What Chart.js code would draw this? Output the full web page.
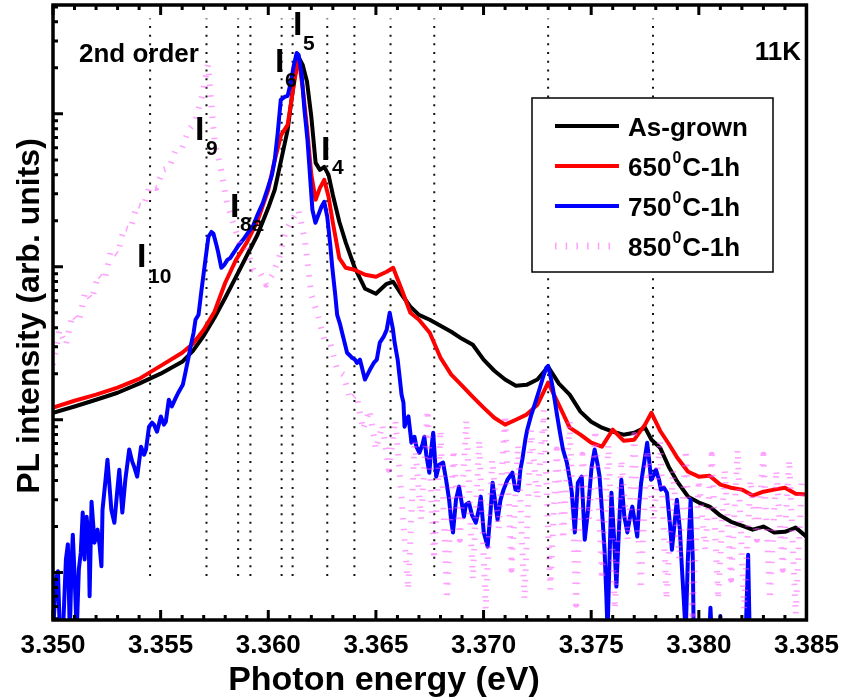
<!DOCTYPE html>
<html>
<head>
<meta charset="utf-8">
<script src="https://cdn.jsdelivr.net/npm/chart.js@4.4.1/dist/chart.umd.min.js"></script>
<style>
  html, body { margin: 0; padding: 0; background: #fff; }
  canvas { display: block; }
</style>
</head>
<body>
<canvas id="plChart" width="849" height="700"></canvas>
<script>
// PL spectra at 11K - as-grown and annealed samples
const energyTicks = [3.350, 3.355, 3.360, 3.365, 3.370, 3.375, 3.380, 3.385];

// shared energy grid for as-grown and 650C curves (eV)
const energy = [
  3.3500, 3.3510, 3.3520, 3.3530, 3.3540, 3.3550, 3.3560, 3.3565, 3.3570, 3.3575,
  3.3580, 3.3585, 3.3590, 3.3595, 3.3600, 3.3603, 3.3606, 3.3609, 3.3612, 3.3614,
  3.3616, 3.3618, 3.3620, 3.3622, 3.3624, 3.3626, 3.3628, 3.3630, 3.3633, 3.3636,
  3.3640, 3.3645, 3.3650, 3.3655, 3.3658, 3.3662, 3.3666, 3.3670, 3.3675, 3.3680,
  3.3685, 3.3690, 3.3695, 3.3700, 3.3705, 3.3710, 3.3715, 3.3720, 3.3725, 3.3730,
  3.3735, 3.3740, 3.3745, 3.3750, 3.3755, 3.3760, 3.3765, 3.3770, 3.3775, 3.3778,
  3.3782, 3.3786, 3.3790, 3.3795, 3.3800, 3.3805, 3.3810, 3.3815, 3.3820, 3.3825,
  3.3830, 3.3835, 3.3840, 3.3845, 3.3850
];
const asGrown = [
  11.1, 12.2, 13.5, 15.0, 17.2, 20.0, 23.9, 28.2, 35.4, 46.4,
  62.7, 86.0, 118, 162, 243, 319, 500, 786, 1668, 2358,
  2090, 1619, 956, 478, 430, 450, 399, 295, 197, 144,
  100, 71.8, 66.6, 77.4, 79.8, 65.6, 54.8, 48.5, 45.0, 41.1,
  37.6, 33.8, 30.9, 24.7, 20.9, 18.3, 16.7, 16.9, 18.3, 22.2,
  17.2, 14.6, 11.3, 9.70, 8.87, 8.35, 7.98, 8.22, 8.87, 7.40,
  6.56, 4.93, 3.93, 3.14, 2.87, 2.70, 2.36, 2.15, 2.03, 1.91,
  2.00, 1.83, 1.85, 1.97, 1.72
];
const anneal650 = [
  12.0, 13.3, 14.6, 16.2, 18.5, 22.5, 27.4, 31.4, 38.7, 50.8,
  78.6, 111, 144, 200, 319, 500, 729, 847, 1595, 2358,
  1479, 810, 399, 274, 328, 370, 287, 194, 114, 98.5,
  95.6, 88.7, 86.0, 92.8, 98.5, 70.7, 50.0, 45.0, 37.0, 25.4,
  19.7, 16.7, 14.1, 12.0, 10.3, 9.28, 10.0, 10.8, 12.5, 17.5,
  12.5, 8.87, 7.98, 7.07, 6.66, 8.60, 7.29, 7.40, 9.28, 11.1,
  8.47, 6.96, 5.64, 4.57, 4.24, 4.30, 3.76, 3.59, 3.49, 3.19,
  3.38, 3.49, 3.59, 3.28, 3.24
];

// 750C curve, finer sampling because of the noise
const energy750 = [
  3.35000, 3.35014, 3.35023, 3.35032, 3.35046, 3.35060, 3.35069, 3.35078, 3.35087, 3.35092,
  3.35101, 3.35110, 3.35120, 3.35129, 3.35138, 3.35147, 3.35156, 3.35166, 3.35170, 3.35179,
  3.35193, 3.35207, 3.35216, 3.35225, 3.35230, 3.35244, 3.35253, 3.35262, 3.35271, 3.35285,
  3.35299, 3.35308, 3.35322, 3.35336, 3.35354, 3.35368, 3.35377, 3.35391, 3.35409, 3.35423,
  3.35432, 3.35446, 3.35460, 3.35469, 3.35483, 3.35501, 3.35515, 3.35524, 3.35538, 3.35552,
  3.35570, 3.35584, 3.35603, 3.35616, 3.35630, 3.35639, 3.35653, 3.35662, 3.35676, 3.35690,
  3.35708, 3.35722, 3.35736, 3.35745, 3.35759, 3.35768, 3.35782, 3.35796, 3.35810, 3.35823,
  3.35842, 3.35860, 3.35883, 3.35906, 3.35929, 3.35952, 3.35975, 3.35998, 3.36017, 3.36030,
  3.36044, 3.36058, 3.36076, 3.36090, 3.36104, 3.36118, 3.36132, 3.36141, 3.36155, 3.36168,
  3.36182, 3.36191, 3.36205, 3.36219, 3.36233, 3.36247, 3.36260, 3.36274, 3.36288, 3.36297,
  3.36311, 3.36320, 3.36334, 3.36343, 3.36357, 3.36366, 3.36380, 3.36389, 3.36403, 3.36412,
  3.36426, 3.36440, 3.36449, 3.36463, 3.36472, 3.36490, 3.36504, 3.36518, 3.36536, 3.36550,
  3.36564, 3.36578, 3.36587, 3.36601, 3.36610, 3.36619, 3.36628, 3.36633, 3.36642, 3.36651,
  3.36661, 3.36665, 3.36679, 3.36688, 3.36702, 3.36716, 3.36725, 3.36734, 3.36748, 3.36757,
  3.36766, 3.36780, 3.36794, 3.36812, 3.36826, 3.36840, 3.36849, 3.36858, 3.36872, 3.36886,
  3.36900, 3.36909, 3.36918, 3.36932, 3.36946, 3.36964, 3.36978, 3.36987, 3.37001, 3.37019,
  3.37033, 3.37042, 3.37056, 3.37065, 3.37079, 3.37093, 3.37111, 3.37134, 3.37148, 3.37162,
  3.37171, 3.37180, 3.37194, 3.37203, 3.37222, 3.37240, 3.37259, 3.37277, 3.37291, 3.37300,
  3.37314, 3.37323, 3.37341, 3.37355, 3.37369, 3.37387, 3.37401, 3.37410, 3.37424, 3.37438,
  3.37456, 3.37470, 3.37484, 3.37502, 3.37516, 3.37530, 3.37539, 3.37553, 3.37562, 3.37571,
  3.37576, 3.37585, 3.37594, 3.37608, 3.37617, 3.37631, 3.37640, 3.37654, 3.37668, 3.37682,
  3.37691, 3.37705, 3.37714, 3.37723, 3.37732, 3.37746, 3.37760, 3.37769, 3.37778, 3.37792,
  3.37801, 3.37815, 3.37824, 3.37838, 3.37852, 3.37866, 3.37875, 3.37889, 3.37898, 3.37912,
  3.37921, 3.37930, 3.37939, 3.37949, 3.37962, 3.37972, 3.37976, 3.37990, 3.38045, 3.38054,
  3.38064, 3.38091, 3.38100, 3.38109, 3.38215, 3.38229, 3.38238, 3.38500
];
const anneal750 = [
  0.4, 0.90, 1.02, 0.4, 0.4, 1.22, 1.53, 0.4, 1.22, 1.77,
  0.90, 0.4, 1.05, 1.35, 2.47, 1.22, 2.32, 1.64, 0.70, 2.91,
  1.57, 1.91, 1.53, 1.10, 2.58, 4.05, 5.48, 3.76, 2.58, 2.12,
  3.49, 4.71, 2.47, 4.05, 6.38, 5.32, 4.93, 4.24, 6.66, 5.90,
  6.38, 9.00, 9.56, 9.28, 8.35, 10.5, 9.28, 9.70, 13.5, 12.2,
  13.9, 15.2, 16.9, 20.6, 25.8, 30.0, 37.0, 45.0, 48.5, 70.7,
  111, 157, 169, 165, 139, 123, 98.5, 103, 111, 114,
  125, 137, 150, 167, 185, 222, 262, 328, 399, 500,
  752, 1234, 1290, 1310, 1595, 2060, 2500, 2430, 1800, 1062,
  676, 450, 236, 194, 219, 247, 266, 212, 139, 100,
  65.6, 48.5, 41.8, 37.0, 30.9, 27.4, 26.2, 25.4, 24.7, 23.5,
  24.7, 20.6, 18.3, 20.0, 21.2, 23.5, 24.7, 31.9, 34.9, 38.7,
  50.0, 39.9, 31.9, 24.7, 19.1, 14.6, 12.9, 9.00, 10.0, 10.5,
  7.98, 7.07, 7.74, 6.66, 6.08, 6.86, 7.74, 5.90, 4.50, 6.38,
  8.22, 4.24, 5.08, 5.24, 4.05, 3.00, 2.22, 1.83, 3.00, 3.65,
  2.78, 2.32, 2.78, 2.87, 2.39, 2.12, 2.58, 3.14, 1.83, 1.48,
  2.58, 3.87, 2.78, 2.22, 3.00, 3.49, 4.05, 4.50, 3.49, 3.45,
  4.71, 5.48, 7.40, 8.60, 10.8, 12.9, 15.7, 19.1, 21.8, 22.5,
  18.3, 15.7, 10.8, 8.22, 6.38, 5.24, 4.05, 3.33, 1.83, 3.87,
  4.24, 1.64, 2.47, 4.93, 6.38, 5.08, 4.24, 2.22, 1.41, 0.67,
  0.4, 1.22, 3.33, 1.53, 0.81, 2.22, 4.05, 2.32, 1.83, 2.39,
  2.70, 2.06, 1.72, 2.78, 3.87, 5.24, 7.07, 5.48, 4.05, 4.37,
  4.71, 4.05, 3.49, 3.59, 3.33, 2.06, 1.41, 2.22, 3.00, 1.91,
  1.10, 0.67, 0.4, 1.22, 3.00, 1.22, 0.4, 0.3, 0.3, 0.59,
  0.3, 0.3, 0.52, 0.3, 0.3, 1.31, 0.3, 0.3
];

// 850C curve (second order, very noisy)
const energy850 = [
  3.3500, 3.3503, 3.3506, 3.3509, 3.3512, 3.3515, 3.3518, 3.3521, 3.3524, 3.3527,
  3.3530, 3.3533, 3.3536, 3.3539, 3.3542, 3.3545, 3.3548, 3.3551, 3.3554, 3.3557,
  3.3560, 3.3563, 3.3566, 3.3569, 3.3572, 3.3575, 3.3578, 3.3581, 3.3584, 3.3587,
  3.3590, 3.3593, 3.3596, 3.3599, 3.3602, 3.3605, 3.3608, 3.3611, 3.3614, 3.3617,
  3.3620, 3.3623, 3.3626, 3.3629, 3.3632, 3.3635, 3.3638, 3.3641, 3.3644, 3.3647,
  3.3650, 3.3653, 3.3656, 3.3659, 3.3662, 3.3665, 3.3668, 3.3671, 3.3674, 3.3677,
  3.3680, 3.3683, 3.3686, 3.3689, 3.3692, 3.3695, 3.3698, 3.3701, 3.3704, 3.3707,
  3.3710, 3.3713, 3.3716, 3.3719, 3.3722, 3.3725, 3.3728, 3.3731, 3.3734, 3.3737,
  3.3740, 3.3743, 3.3746, 3.3749, 3.3752, 3.3755, 3.3758, 3.3761, 3.3764, 3.3767,
  3.3770, 3.3773, 3.3776, 3.3779, 3.3782, 3.3785, 3.3788, 3.3791, 3.3794, 3.3797,
  3.3800, 3.3803, 3.3806, 3.3809, 3.3812, 3.3815, 3.3818, 3.3821, 3.3824, 3.3827,
  3.3830, 3.3833, 3.3836, 3.3839, 3.3842, 3.3845, 3.3848
];
const anneal850 = [
  22.9, 38.7, 30.9, 48.5, 43.7, 68.6, 60.8, 88.7, 82.2, 129,
  120, 180, 175, 254, 247, 338, 328, 430, 443, 582,
  600, 786, 887, 1270, 2090, 676, 430, 254, 188, 139,
  133, 95.6, 92.8, 76.3, 88.7, 114, 169, 203, 236, 150,
  65.6, 48.5, 33.3, 30.9, 21.2, 19.7, 13.5, 14.6, 8.60, 11.6,
  6.38, 9.28, 4.71, 10.0, 3.0, 0.774, 7.40, 2.22, 11.6, 1.215,
  8.60, 0.666, 6.38, 1.64, 10.0, 0.90, 7.40, 0.573, 5.48, 1.91,
  10.8, 1.046, 6.86, 0.666, 8.60, 3.0, 11.6, 0.774, 6.38, 1.64,
  10.0, 0.618, 5.90, 2.22, 8.60, 0.90, 6.86, 0.573, 5.48, 1.64,
  7.98, 0.774, 6.38, 2.22, 7.40, 0.666, 4.71, 1.215, 6.38, 0.532,
  4.05, 1.41, 5.90, 0.666, 4.71, 0.90, 6.38, 0.573, 4.05, 1.64,
  5.90, 0.666, 4.71, 1.046, 5.48, 0.532, 4.37
];

// dotted reference lines for the bound exciton lines
const lineEnergies = [3.35451, 3.35713, 3.35860, 3.35917, 3.36062, 3.36113,
                      3.36274, 3.36400, 3.36568, 3.36771, 3.37300, 3.37787];
const lineLow = 0.95;
const lineHigh = 4200;

const seriesNames = ['As-grown', '650', '750', '850'];
const seriesColors = ['#000000', '#ff0000', '#0000ff', 'rgba(255,80,255,0.55)'];
const FONT = '"Liberation Sans", Arial, Helvetica, sans-serif';

function pairs(xs, ys) {
  return xs.map((e, i) => ({ x: e, y: ys[i] }));
}

const markerData = [];
lineEnergies.forEach(e => {
  markerData.push({ x: e, y: lineLow }, { x: e, y: lineHigh }, { x: e, y: null });
});

function drawSub(ctx, main, sub, x, base, sx, sbase) {
  ctx.font = 'bold 34px ' + FONT;
  ctx.fillText(main, x, base);
  ctx.font = 'bold 21px ' + FONT;
  ctx.fillText(sub, sx, sbase);
}

const decorations = {
  id: 'decorations',
  afterDatasetsDraw(chart) {
    const { ctx, chartArea: a, scales: { x, y } } = chart;
    ctx.save();
    ctx.strokeStyle = '#000';
    ctx.fillStyle = '#000';

    // inward tick marks
    ctx.lineWidth = 3;
    ctx.beginPath();
    for (let i = 0; i <= 35; i++) {
      const px = x.getPixelForValue(3.350 + i * 0.001);
      const len = i % 5 === 0 ? 10 : 5;
      ctx.moveTo(px, a.bottom); ctx.lineTo(px, a.bottom - len);
      ctx.moveTo(px, a.top); ctx.lineTo(px, a.top + len);
    }
    for (let n = -1; n <= 3; n++) {
      for (let k = 1; k <= 9; k++) {
        const v = k * Math.pow(10, n);
        if (v < y.min || v > y.max) continue;
        const py = y.getPixelForValue(v);
        ctx.moveTo(a.left, py); ctx.lineTo(a.left + (k === 1 ? 10 : 5), py);
      }
    }
    ctx.stroke();

    // frame
    ctx.lineWidth = 3.5;
    ctx.strokeRect(a.left, a.top, a.right - a.left, a.bottom - a.top);

    // axis titles
    ctx.font = 'bold 34px ' + FONT;
    ctx.textAlign = 'center';
    ctx.textBaseline = 'alphabetic';
    ctx.fillText('Photon energy (eV)', 384, 690);
    ctx.save();
    ctx.translate(39, 316);
    ctx.rotate(-Math.PI / 2);
    ctx.font = 'bold 32px ' + FONT;
    ctx.fillText('PL intensity (arb. units)', 0, 0);
    ctx.restore();

    // annotations
    ctx.textAlign = 'left';
    ctx.font = 'bold 26px ' + FONT;
    ctx.fillText('2nd order', 79, 62);
    ctx.textAlign = 'right';
    ctx.fillText('11K', 801, 60);
    ctx.textAlign = 'left';
    drawSub(ctx, 'I', '10', 137, 267, 148, 283);
    drawSub(ctx, 'I', '9', 195, 140, 206, 155);
    drawSub(ctx, 'I', '8a', 230, 217, 240, 231);
    drawSub(ctx, 'I', '6', 275, 72, 285, 87);
    drawSub(ctx, 'I', '5', 293, 35, 303, 50);
    drawSub(ctx, 'I', '4', 321, 160, 332, 174);

    // legend
    ctx.fillStyle = '#fff';
    ctx.fillRect(532, 98, 241, 174);
    ctx.lineWidth = 1.5;
    ctx.strokeRect(532, 98, 241, 174);
    ctx.fillStyle = '#000';
    for (let i = 0; i < 4; i++) {
      const ly = 126 + i * 40;
      ctx.beginPath();
      ctx.strokeStyle = seriesColors[i];
      if (i === 3) {
        ctx.lineWidth = 7;
        ctx.setLineDash([1.5, 9.2]);
      } else {
        ctx.lineWidth = 4;
        ctx.setLineDash([]);
      }
      ctx.moveTo(555, ly); ctx.lineTo(619, ly);
      ctx.stroke();
      ctx.setLineDash([]);
      const base = 136 + i * 40;
      ctx.font = 'bold 26px ' + FONT;
      ctx.fillText(seriesNames[i], 628, base);
      if (i > 0) {
        let tx = 628 + ctx.measureText(seriesNames[i]).width + 1;
        ctx.font = 'bold 16px ' + FONT;
        ctx.fillText('0', tx, base - 13);
        tx += ctx.measureText('0').width + 1;
        ctx.font = 'bold 26px ' + FONT;
        ctx.fillText('C-1h', tx, base);
      }
    }
    ctx.restore();
  }
};

Chart.defaults.font.family = FONT;
Chart.defaults.color = '#000';

new Chart(document.getElementById('plChart'), {
  type: 'line',
  data: {
    datasets: [
      {
        label: '850C-1h',
        data: pairs(energy850, anneal850),
        borderColor: seriesColors[3],
        borderWidth: 6,
        borderDash: [1.5, 9.2],
        borderCapStyle: 'butt',
        order: 0
      },
      {
        label: '750C-1h',
        data: pairs(energy750, anneal750),
        borderColor: seriesColors[2],
        borderWidth: 4,
        order: 1
      },
      {
        label: '650C-1h',
        data: pairs(energy, anneal650),
        borderColor: seriesColors[1],
        borderWidth: 4,
        order: 2
      },
      {
        label: 'As-grown',
        data: pairs(energy, asGrown),
        borderColor: seriesColors[0],
        borderWidth: 4,
        order: 3
      },
      {
        label: 'lines',
        data: markerData,
        borderColor: '#111',
        borderWidth: 2,
        borderDash: [2, 6.7],
        spanGaps: false,
        order: 4
      }
    ]
  },
  options: {
    responsive: false,
    animation: false,
    devicePixelRatio: 1,
    layout: { padding: { left: 53, right: 35, top: 5, bottom: 28.8 } },
    elements: {
      point: { radius: 0, hoverRadius: 0 },
      line: { tension: 0, borderJoinStyle: 'round' }
    },
    datasets: { line: { clip: 0, fill: false } },
    plugins: {
      legend: { display: false },
      tooltip: { enabled: false }
    },
    events: [],
    scales: {
      x: {
        type: 'linear',
        min: 3.350,
        max: 3.385,
        afterBuildTicks: scale => { scale.ticks = energyTicks.map(v => ({ value: v })); },
        ticks: {
          autoSkip: false,
          maxRotation: 0,
          padding: 10,
          font: { size: 26, weight: 'bold' },
          color: '#000',
          callback: v => Number(v).toFixed(3)
        },
        grid: { display: false, drawTicks: false },
        border: { display: false }
      },
      y: {
        type: 'logarithmic',
        display: false,
        min: 0.49,
        max: 5150
      }
    }
  },
  plugins: [decorations]
});
</script>
</body>
</html>
